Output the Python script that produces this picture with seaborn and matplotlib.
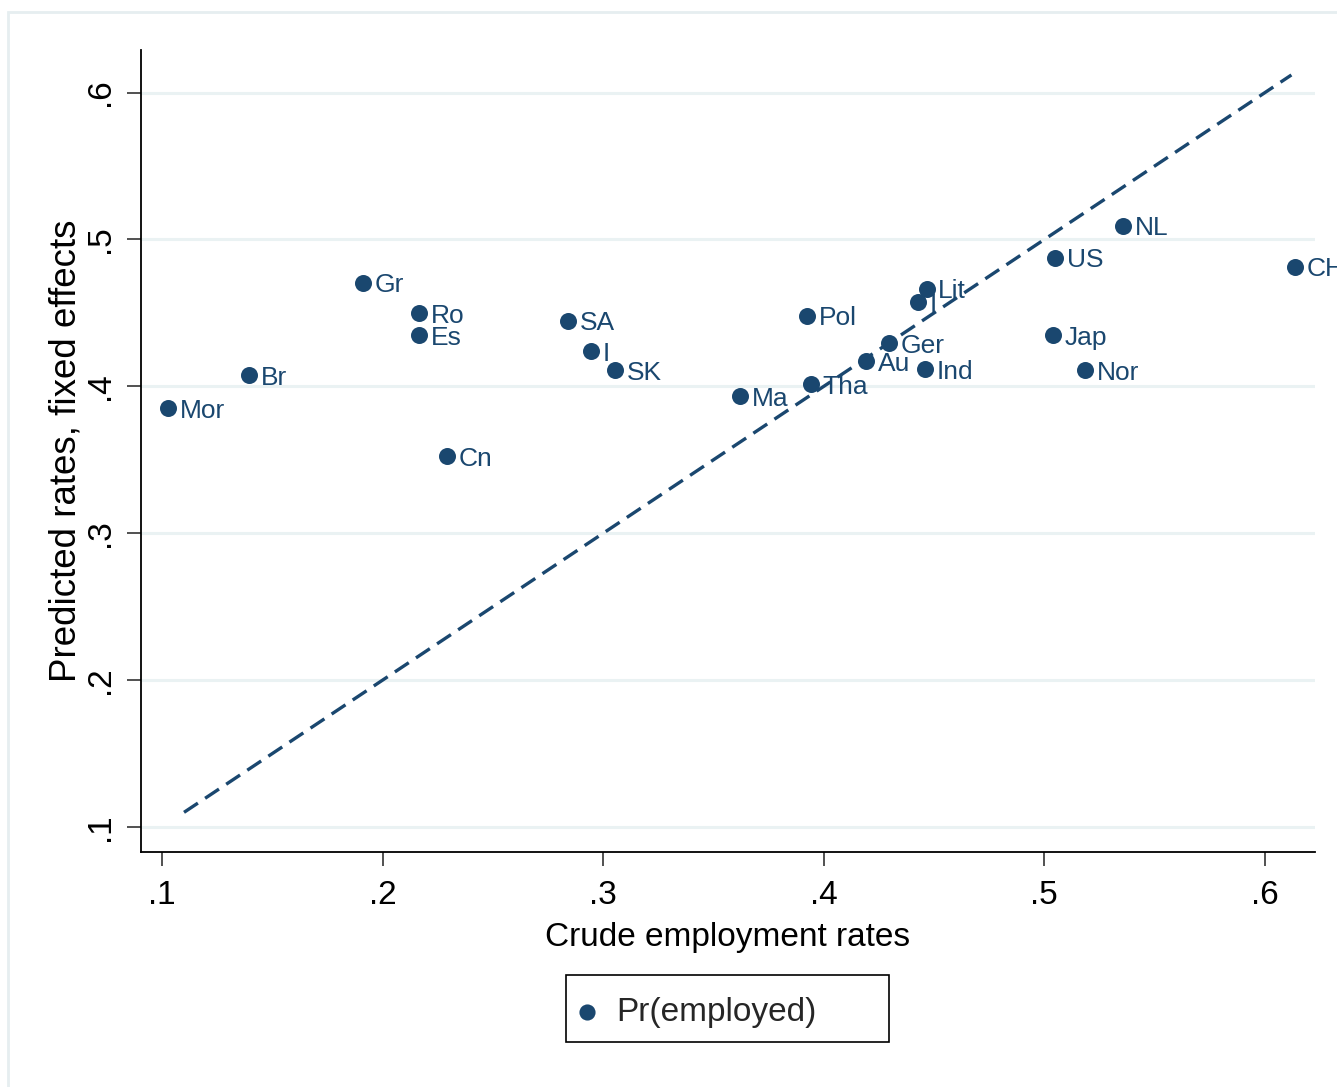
import matplotlib
matplotlib.use("Agg")
import matplotlib.pyplot as plt
import seaborn as sns
import pandas as pd
from matplotlib.patches import Rectangle

# ---- data ----
countries = ["Mor", "Br", "Gr", "Ro", "Es", "Cn", "SA", "I", "SK", "Ma", "Pol", "Tha",
             "Au", "Ger", "I", "Lit", "Ind", "Jap", "Nor", "US", "NL", "CH"]
crude_rates = [0.1027, 0.1394, 0.1911, 0.2165, 0.2165, 0.2292, 0.2840, 0.2945, 0.3053,
               0.3620, 0.3924, 0.3942, 0.4191, 0.4296, 0.4427, 0.4466, 0.4459, 0.5039,
               0.5184, 0.5048, 0.5356, 0.6136]
predicted_rates = [0.3854, 0.4079, 0.4706, 0.4501, 0.4351, 0.3527, 0.4447, 0.4242, 0.4113,
                   0.3936, 0.4481, 0.4018, 0.4174, 0.4297, 0.4576, 0.4665, 0.4120, 0.4351,
                   0.4113, 0.4876, 0.5094, 0.4815]
diag_x = [0.110, 0.612]
diag_y = [0.110, 0.612]
x_ticks = [0.1, 0.2, 0.3, 0.4, 0.5, 0.6]
x_tick_labels = [".1", ".2", ".3", ".4", ".5", ".6"]
y_ticks = [0.1, 0.2, 0.3, 0.4, 0.5, 0.6]
y_tick_labels = [".1", ".2", ".3", ".4", ".5", ".6"]
legend_label = "Pr(employed)"
x_title = "Crude employment rates"
y_title = "Predicted rates, fixed effects"

df = pd.DataFrame({"country": countries, "crude": crude_rates, "pred": predicted_rates})
diag = pd.DataFrame({"x": diag_x, "y": diag_y})

navy = "#1a476f"
grid_col = "#eaf2f3"
W, H = 1337, 1087

sns.set_theme(style="white")
plt.rcParams["font.family"] = ["Liberation Sans", "DejaVu Sans"]

fig = plt.figure(figsize=(W / 100, H / 100), dpi=100)
fig.patch.set_facecolor("white")
ax = fig.add_axes([141 / W, 1 - 852 / H, (1315 - 141) / W, (852 - 50) / H])

# outer light frame (cropped on right/bottom)
fig.patches.append(Rectangle((8 / W, -0.05), 1.2, 1 - 12 / H + 0.05,
                             transform=fig.transFigure, fill=False,
                             edgecolor="#e6eef0", linewidth=2, zorder=-2))

ax.set_xlim(0.0905, 0.6227)
ax.set_ylim(0.083, 0.629)

for yv in y_ticks:
    ax.axhline(yv, color=grid_col, linewidth=2.2, zorder=0)

sns.lineplot(data=diag, x="x", y="y", ax=ax, color=navy, linewidth=2.4,
             linestyle=(0, (5.0, 2.6)), zorder=2)

sns.scatterplot(data=df, x="crude", y="pred", ax=ax, color=navy, s=150,
                edgecolor=navy, linewidth=0, label=legend_label, zorder=3)

for _, r in df.iterrows():
    ax.annotate(r["country"], (r["crude"], r["pred"]), xytext=(8.5, -2),
                textcoords="offset points", va="center", ha="left",
                fontsize=19, color=navy, zorder=4, annotation_clip=False)

ax.set_xticks(x_ticks)
ax.set_xticklabels(x_tick_labels)
ax.set_yticks(y_ticks)
ax.set_yticklabels(y_tick_labels)
plt.setp(ax.get_yticklabels(), rotation=90, va="center")

ax.tick_params(axis="both", which="major", direction="out", length=10, width=1.2,
               color="#333333", labelsize=24, labelcolor="black", pad=10,
               bottom=True, left=True)
ax.tick_params(axis="y", pad=8)

for s in ["top", "right"]:
    ax.spines[s].set_visible(False)
for s in ["left", "bottom"]:
    ax.spines[s].set_color("black")
    ax.spines[s].set_linewidth(1.3)

ax.set_xlabel(x_title, fontsize=24, color="black", labelpad=8)
ax.set_ylabel(y_title, fontsize=26.5, color="black", labelpad=1)
ax.grid(False)

# legend box (drawn beneath the axes layer) and legend content
fig.patches.append(Rectangle((566 / W, 1 - 1042 / H), (889 - 566) / W, (1042 - 975) / H,
                             transform=fig.transFigure, fill=False,
                             edgecolor="black", linewidth=1.2, zorder=-1))
leg = ax.legend(loc="center left", bbox_to_anchor=(566 / W, 1 - 1012 / H),
                bbox_transform=fig.transFigure, frameon=False, fontsize=24,
                markerscale=0.95, handlelength=1.26, handletextpad=0.24,
                borderpad=0, borderaxespad=0)

fig.savefig("out.png", dpi=100, facecolor="white")
